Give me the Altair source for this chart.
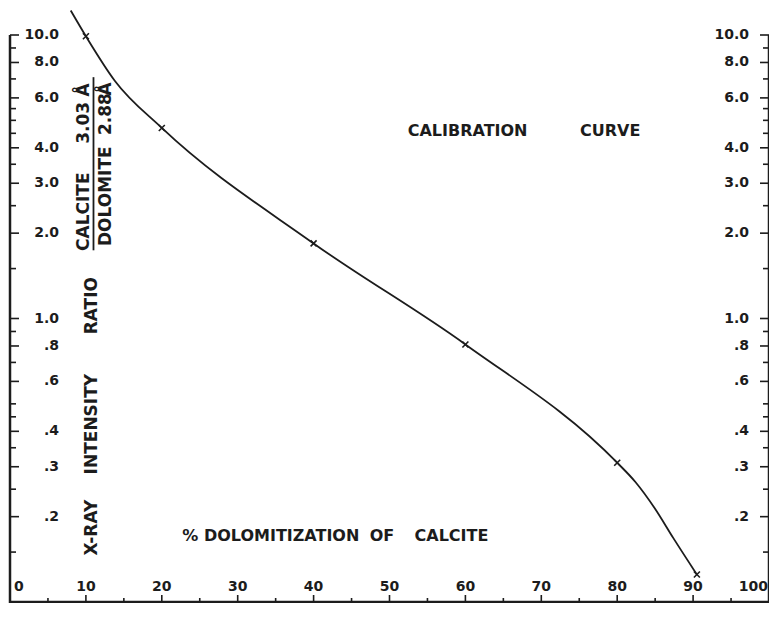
import altair as alt
import pandas as pd

# ---- data ----
curve_x = [8.0, 10.0, 13.8, 20.0, 40.0, 60.0, 80.0, 82.4, 84.9, 87.4, 90.5]
curve_y = [12.2, 9.9, 6.9, 4.7, 1.84, 0.81, 0.31, 0.265, 0.215, 0.168, 0.125]

pts_x = [10, 20, 40, 60, 80, 90.5]
pts_y = [9.9, 4.7, 1.84, 0.81, 0.31, 0.125]

x_major = [10, 20, 30, 40, 50, 60, 70, 80, 90]
x_major_labels = ["10", "20", "30", "40", "50", "60", "70", "80", "90"]
x_minor = [5, 15, 25, 35, 45, 55, 65, 75, 85, 95]

y_major = [10, 8, 6, 4, 3, 2, 1, 0.8, 0.6, 0.4, 0.3, 0.2]
y_labels = ["10.0", "8.0", "6.0", "4.0", "3.0", "2.0", "1.0", ".8", ".6", ".4", ".3", ".2"]
y_minor = [9, 7, 5.5, 5, 4.5, 3.5, 2.5, 1.5, 0.9, 0.7, 0.5, 0.45, 0.35, 0.25, 0.15]

# annotations (text, x, y) in data units
h_texts = ["CALIBRATION", "CURVE", "% DOLOMITIZATION", "OF", "CALCITE"]
h_x = [52.4, 75.1, 22.7, 47.4, 53.3]
h_y = [4.6, 4.6, 0.171, 0.171, 0.171]

v_texts = ["X-RAY", "INTENSITY", "RATIO", "CALCITE", "3.03", "Å", "DOLOMITE", "2.88", "Å"]
v_x = [10.8, 10.8, 10.8, 9.8, 9.8, 9.8, 12.7, 12.7, 12.7]
v_y = [0.183, 0.424, 1.11, 2.38, 4.9, 6.4, 2.7, 5.26, 6.45]

bar_x = [11.0]
bar_y = [7.1]
bar_y2 = [1.74]

# ---- layout ----
W, H = 759, 567
FONT = "DejaVu Sans"
INK = "#1c1c1c"

xs = alt.Scale(domain=[0, 100])
ys = alt.Scale(type="log", domain=[0.1, 10])

curve_df = pd.DataFrame({"x": curve_x, "y": curve_y})
pts_df = pd.DataFrame({"x": pts_x, "y": pts_y})
xmaj_df = pd.DataFrame({"x": x_major, "lab": x_major_labels})
xmin_df = pd.DataFrame({"x": x_minor})
ymaj_df = pd.DataFrame({"y": y_major, "lab": y_labels})
ymin_df = pd.DataFrame({"y": y_minor})
h_df = pd.DataFrame({"t": h_texts, "x": h_x, "y": h_y})
v_df = pd.DataFrame({"t": v_texts, "x": v_x, "y": v_y})
bar_df = pd.DataFrame({"x": bar_x, "y": bar_y, "y2": bar_y2})
end_df = pd.DataFrame({"x": [0, 100], "lab": ["0", "100"]})

X = lambda: alt.X("x:Q", scale=xs, axis=None)
Y = lambda: alt.Y("y:Q", scale=ys, axis=None)

curve = alt.Chart(curve_df).mark_line(
    color=INK, strokeWidth=1.8, interpolate="monotone", clip=False
).encode(x=X(), y=Y())

points = alt.Chart(pts_df).mark_point(
    shape="M-1,-1L1,1M-1,1L1,-1", filled=False, color=INK, strokeWidth=1.6, size=36, opacity=1
).encode(x=X(), y=Y())

# axis lines
left_line = alt.Chart().mark_rule(color=INK, strokeWidth=2.5).encode(
    x=alt.value(0), y=alt.value(0), y2=alt.value(H + 1))
right_line = alt.Chart().mark_rule(color=INK, strokeWidth=2.5).encode(
    x=alt.value(W), y=alt.value(0), y2=alt.value(H + 1))
bottom_line = alt.Chart().mark_rule(color=INK, strokeWidth=2.5).encode(
    x=alt.value(0), x2=alt.value(W), y=alt.value(H))

# x ticks (inside, pointing up)
xmaj_ticks = alt.Chart(xmaj_df).mark_rule(color=INK, strokeWidth=1.6).encode(
    x=X(), y=alt.value(H - 7), y2=alt.value(H))
xmin_ticks = alt.Chart(xmin_df).mark_rule(color=INK, strokeWidth=1.6).encode(
    x=X(), y=alt.value(H - 4), y2=alt.value(H))
xmaj_labels = alt.Chart(xmaj_df).mark_text(
    font=FONT, fontSize=14, fontWeight="bold", color=INK, baseline="middle", align="center"
).encode(x=X(), y=alt.value(H - 15), text="lab:N")
x0_label = alt.Chart(end_df.iloc[[0]]).mark_text(
    font=FONT, fontSize=14, fontWeight="bold", color=INK, baseline="middle", align="left", dx=4
).encode(x=X(), y=alt.value(H - 15), text="lab:N")
x100_label = alt.Chart(end_df.iloc[[1]]).mark_text(
    font=FONT, fontSize=14, fontWeight="bold", color=INK, baseline="middle", align="right", dx=-1
).encode(x=X(), y=alt.value(H - 15), text="lab:N")

# y ticks, left and right
yl_maj = alt.Chart(ymaj_df).mark_rule(color=INK, strokeWidth=1.6).encode(
    y=Y(), x=alt.value(0), x2=alt.value(9))
yl_min = alt.Chart(ymin_df).mark_rule(color=INK, strokeWidth=1.6).encode(
    y=Y(), x=alt.value(0), x2=alt.value(6))
yr_maj = alt.Chart(ymaj_df).mark_rule(color=INK, strokeWidth=1.6).encode(
    y=Y(), x=alt.value(W - 9), x2=alt.value(W))
yr_min = alt.Chart(ymin_df).mark_rule(color=INK, strokeWidth=1.6).encode(
    y=Y(), x=alt.value(W - 6), x2=alt.value(W))
yl_lab = alt.Chart(ymaj_df).mark_text(
    font=FONT, fontSize=14, fontWeight="bold", color=INK, baseline="middle", align="right"
).encode(y=Y(), x=alt.value(49), text="lab:N")
yr_lab = alt.Chart(ymaj_df).mark_text(
    font=FONT, fontSize=14, fontWeight="bold", color=INK, baseline="middle", align="right"
).encode(y=Y(), x=alt.value(W - 20), text="lab:N")

# annotations
h_ann = alt.Chart(h_df).mark_text(
    font=FONT, fontSize=16, fontWeight="bold", color=INK, baseline="middle", align="left"
).encode(x=X(), y=Y(), text="t:N")
v_ann = alt.Chart(v_df).mark_text(
    font=FONT, fontSize=17, fontWeight="bold", color=INK, baseline="middle", align="center", angle=270
).encode(x=X(), y=Y(), text="t:N")
bar = alt.Chart(bar_df).mark_rule(color=INK, strokeWidth=1.8).encode(
    x=X(), y=Y(), y2="y2:Q")

chart = alt.layer(
    left_line, right_line, bottom_line,
    xmaj_ticks, xmin_ticks, xmaj_labels, x0_label, x100_label,
    yl_maj, yl_min, yr_maj, yr_min, yl_lab, yr_lab,
    h_ann, v_ann, bar,
    curve, points,
).properties(
    width=W, height=H,
    autosize="none",
    padding={"left": 2, "top": 27, "right": 0, "bottom": 1},
    background="white",
).configure_view(stroke=None)

chart.save("out.html", embed_options={"renderer": "svg", "actions": False})
